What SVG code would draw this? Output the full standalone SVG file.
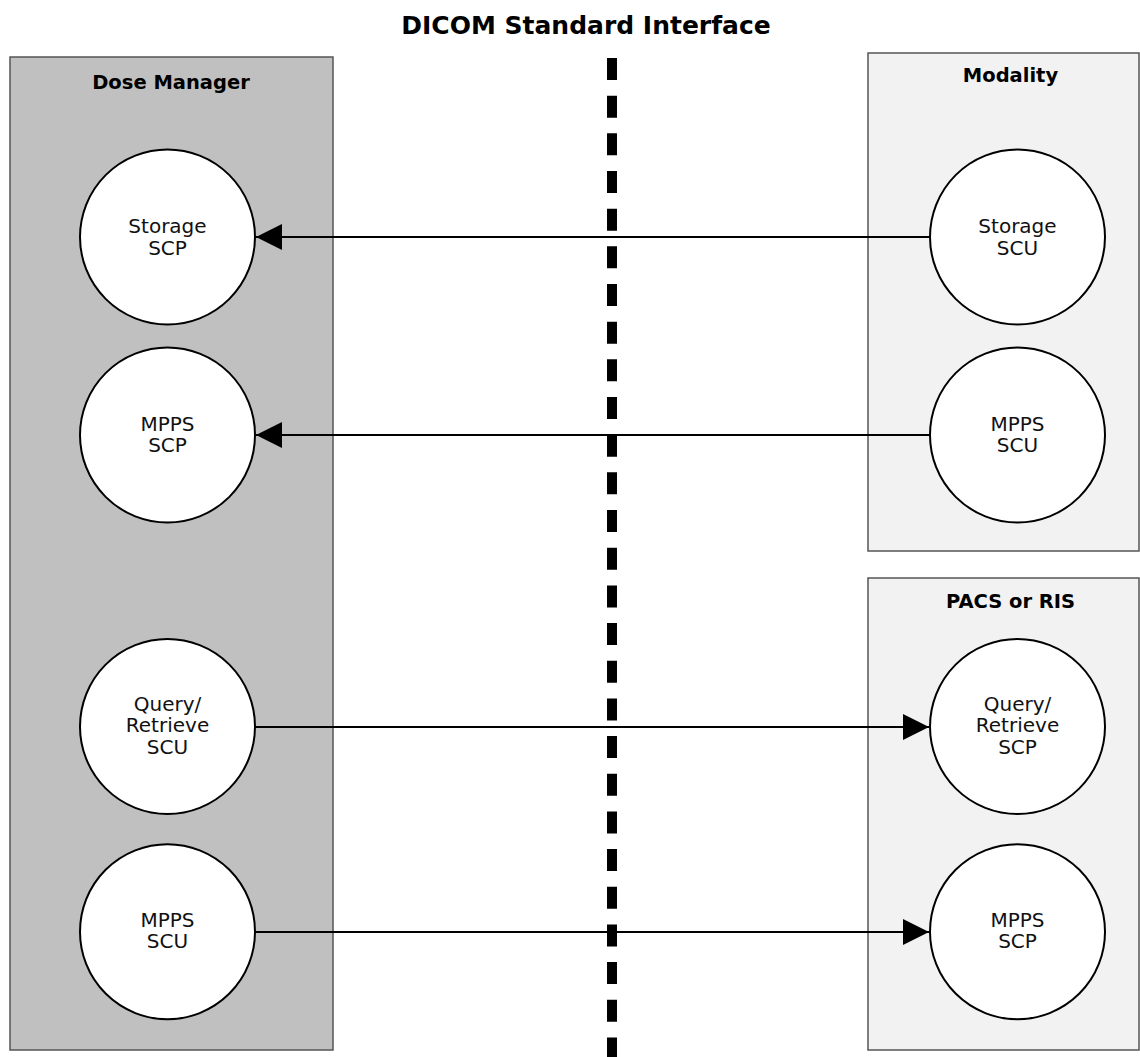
<svg xmlns="http://www.w3.org/2000/svg" width="1140" height="1057" viewBox="0 0 1140 1057">
<style>
.bg{fill:#ffffff}
.sys{stroke:#555555;stroke-width:1.5}
.dm{fill:#c0c0c0}
.ext{fill:#f2f2f2}
.hdr{font-family:"DejaVu Sans",Verdana,sans-serif;font-weight:bold;font-size:19.5px;fill:#000;text-anchor:middle}
.title{font-family:"DejaVu Sans",Verdana,sans-serif;font-weight:bold;font-size:25px;fill:#000;text-anchor:middle}
.node circle{fill:#ffffff;stroke:#000;stroke-width:2}
.node text{font-family:"DejaVu Sans",Verdana,sans-serif;font-size:20px;fill:#111;text-anchor:middle}
.conn{stroke:#000;stroke-width:2;fill:none}
.div{stroke:#000;stroke-width:10;stroke-dasharray:22 15.67;fill:none}
</style>
<defs>
<marker id="ah" markerUnits="userSpaceOnUse" markerWidth="26" markerHeight="26" viewBox="0 0 25 25" refX="25" refY="12.5" orient="auto">
<path d="M0,0 L25,12.5 L0,25 Z" fill="#000"/>
</marker>
</defs>
<rect class="bg" x="0" y="0" width="1140" height="1057"/>
<text class="title" x="586" y="34">DICOM Standard Interface</text>

<g id="dose-manager">
<rect class="sys dm" x="10" y="57" width="323" height="993"/>
<text class="hdr" x="171" y="89">Dose Manager</text>
</g>
<g id="modality">
<rect class="sys ext" x="868" y="53" width="271" height="498"/>
<text class="hdr" x="1010.5" y="82">Modality</text>
</g>
<g id="pacs-ris">
<rect class="sys ext" x="868" y="578" width="271" height="472"/>
<text class="hdr" x="1010.5" y="608">PACS or RIS</text>
</g>

<path id="interface-divider" class="div" d="M612,58 V1057"/>

<g id="connectors">
<line class="conn" x1="930" y1="237" x2="256" y2="237" marker-end="url(#ah)"/>
<line class="conn" x1="930" y1="435" x2="256" y2="435" marker-end="url(#ah)"/>
<line class="conn" x1="255" y1="727" x2="929" y2="727" marker-end="url(#ah)"/>
<line class="conn" x1="255" y1="932" x2="929" y2="932" marker-end="url(#ah)"/>
</g>

<g id="storage-scp" class="node">
<circle cx="167.5" cy="237" r="87.5"/>
<text x="167.5" y="232.5">Storage</text>
<text x="167.5" y="254.5">SCP</text>
</g>
<g id="mpps-scp-dm" class="node">
<circle cx="167.5" cy="435" r="87.5"/>
<text x="167.5" y="431">MPPS</text>
<text x="167.5" y="452">SCP</text>
</g>
<g id="qr-scu" class="node">
<circle cx="167.5" cy="726.5" r="87.5"/>
<text x="167.5" y="710.5">Query/</text>
<text x="167.5" y="732.3">Retrieve</text>
<text x="167.5" y="754.2">SCU</text>
</g>
<g id="mpps-scu-dm" class="node">
<circle cx="167.5" cy="931.7" r="87.5"/>
<text x="167.5" y="927.3">MPPS</text>
<text x="167.5" y="948.3">SCU</text>
</g>

<g id="storage-scu" class="node">
<circle cx="1017.5" cy="237" r="87.5"/>
<text x="1017.5" y="232.5">Storage</text>
<text x="1017.5" y="254.5">SCU</text>
</g>
<g id="mpps-scu-mod" class="node">
<circle cx="1017.5" cy="435" r="87.5"/>
<text x="1017.5" y="431">MPPS</text>
<text x="1017.5" y="452">SCU</text>
</g>
<g id="qr-scp" class="node">
<circle cx="1017.5" cy="726.5" r="87.5"/>
<text x="1017.5" y="710.5">Query/</text>
<text x="1017.5" y="732.3">Retrieve</text>
<text x="1017.5" y="754.2">SCP</text>
</g>
<g id="mpps-scp-pacs" class="node">
<circle cx="1017.5" cy="931.7" r="87.5"/>
<text x="1017.5" y="927.3">MPPS</text>
<text x="1017.5" y="948.3">SCP</text>
</g>
</svg>
